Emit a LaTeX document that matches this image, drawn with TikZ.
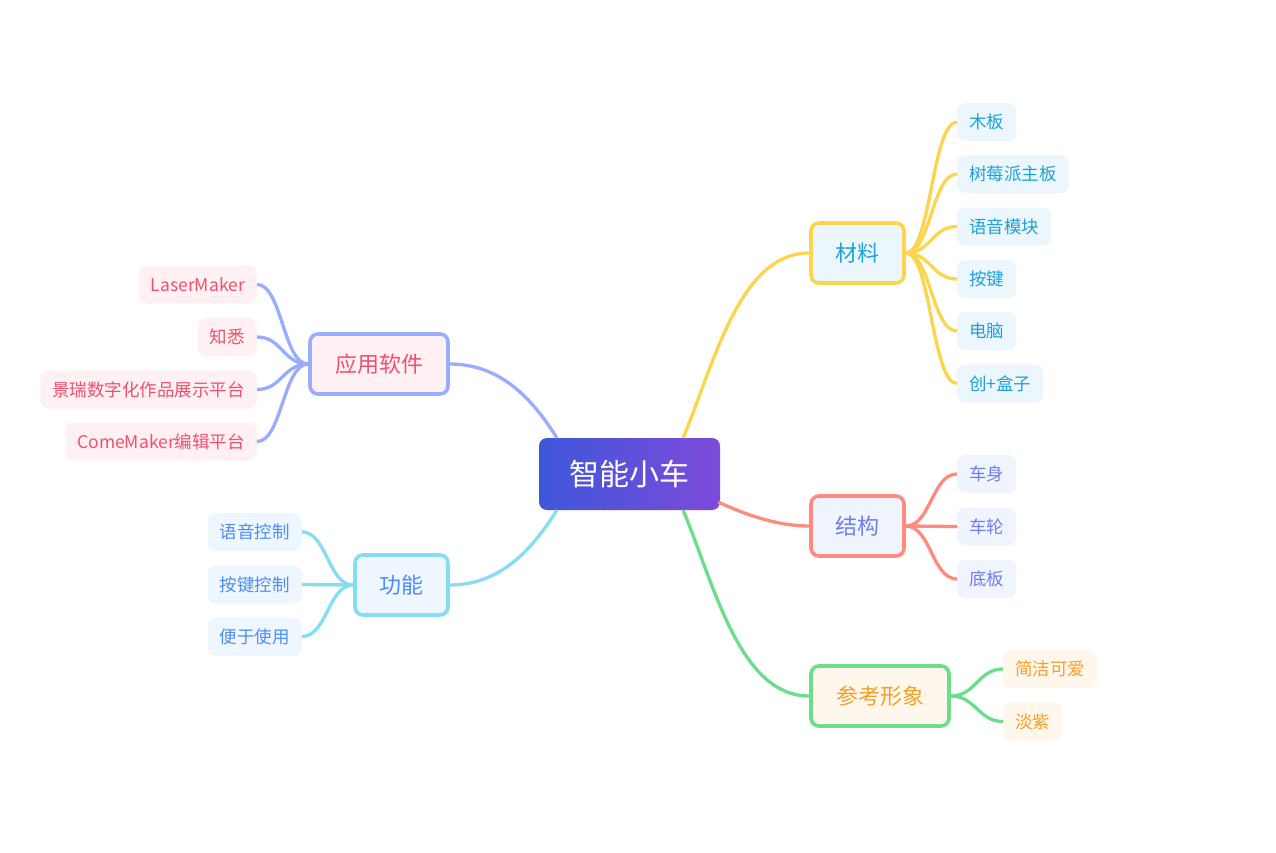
\documentclass[tikz,border=0pt]{standalone}
\usepackage{fontspec}
\setmainfont{Noto Sans CJK SC}
\usetikzlibrary{calc}
\definecolor{cA}{HTML}{3E57DA}
\definecolor{cB}{HTML}{7E4ADA}
\definecolor{yel}{HTML}{FDD54C}
\definecolor{sal}{HTML}{FF8A7E}
\definecolor{grn}{HTML}{6BDD8B}
\definecolor{peri}{HTML}{99ACFF}
\definecolor{cyn}{HTML}{86DCF2}
\definecolor{tY}{HTML}{1DA1D8}
\definecolor{tS}{HTML}{6E7FEA}
\definecolor{tG}{HTML}{F3A02C}
\definecolor{tP}{HTML}{F0506E}
\definecolor{tC}{HTML}{4D8DF5}
\definecolor{fY}{HTML}{EBF7FD}
\definecolor{fS}{HTML}{F0F4FF}
\definecolor{fG}{HTML}{FFF7EC}
\definecolor{fP}{HTML}{FFF1F3}
\definecolor{fC}{HTML}{EEF6FF}
\begin{document}
\begin{tikzpicture}[x=1pt,y=-1pt,
  rootbox/.style={rounded corners=8pt, minimum width=181pt, minimum height=72pt,
    left color=cA, right color=cB, text=white, font=\fontsize{30}{36}\selectfont},
  branchbox/.style={draw, line width=3.6pt, rounded corners=8pt, minimum height=60pt,
    inner xsep=10pt, font=\fontsize{22}{26}\selectfont},
  leafbox/.style={rounded corners=8pt, minimum height=38pt, inner xsep=12pt,
    font=\fontsize{17.5}{21}\selectfont},
  link/.style={line width=3.3pt}]
\useasboundingbox[fill=white] (0,0) rectangle (1276,852);

% root
\node[rootbox] (c) at (629.5,474) {智能小车};

% branches
\node[branchbox, draw=yel, fill=fY, text=tY, minimum width=93pt] (m) at (857.5,253) {材料};
\node[branchbox, draw=sal, fill=fS, text=tS, minimum width=93pt] (s) at (857.5,526) {结构};
\node[branchbox, draw=grn, fill=fG, text=tG, minimum width=138pt] (r) at (880,696) {参考形象};
\node[branchbox, draw=peri, fill=fP, text=tP, minimum width=138pt] (a) at (379,364) {应用软件};
\node[branchbox, draw=cyn, fill=fC, text=tC, minimum width=93pt] (f) at (401.5,585) {功能};

% root to branches
\draw[link, yel] ($(c.north east)+(-37,0)$) .. controls +(32,-78) and +(-69,0) .. (m.west);
\draw[link, grn] ($(c.south east)+(-37,0)$) .. controls +(32,78) and +(-69,0) .. (r.west);
\draw[link, sal] ($(c.east)+(-2,28)$) .. controls +(30,14) and +(-30,0) .. (s.west);
\draw[link, peri] ($(c.north west)+(18,0)$) .. controls +(-25,-40) and +(50,0) .. (a.east);
\draw[link, cyn] ($(c.south west)+(18,0)$) .. controls +(-25,40) and +(50,0) .. (f.east);

% leaves of 材料
\foreach \n/\t/\y in {m1/木板/122, m2/树莓派主板/174, m3/语音模块/226.5, m4/按键/279, m5/电脑/331, m6/创+盒子/383.5}{
  \node[leafbox, fill=fY, text=tY, anchor=west] (\n) at (957,\y) {\t};
  \draw[link, yel] (m.east) .. controls +(25,0) and +(-25,0) .. (\n.west);
}
% leaves of 结构
\foreach \n/\t/\y in {s1/车身/474, s2/车轮/526.5, s3/底板/579}{
  \node[leafbox, fill=fS, text=tS, anchor=west] (\n) at (957,\y) {\t};
  \draw[link, sal] (s.east) .. controls +(25,0) and +(-25,0) .. (\n.west);
}
% leaves of 参考形象
\foreach \n/\t/\y in {r1/简洁可爱/669, r2/淡紫/721.5}{
  \node[leafbox, fill=fG, text=tG, anchor=west] (\n) at (1003,\y) {\t};
  \draw[link, grn] (r.east) .. controls +(25,0) and +(-25,0) .. (\n.west);
}
% leaves of 应用软件
\foreach \n/\t/\y in {a1/LaserMaker/284.5, a2/知悉/337, a3/景瑞数字化作品展示平台/389.5, a4/ComeMaker编辑平台/441.5}{
  \node[leafbox, fill=fP, text=tP, anchor=east] (\n) at (257,\y) {\t};
  \draw[link, peri] (a.west) .. controls +(-25,0) and +(25,0) .. (\n.east);
}
% leaves of 功能
\foreach \n/\t/\y in {f1/语音控制/532, f2/按键控制/584.5, f3/便于使用/636.5}{
  \node[leafbox, fill=fC, text=tC, anchor=east] (\n) at (302,\y) {\t};
  \draw[link, cyn] (f.west) .. controls +(-25,0) and +(25,0) .. (\n.east);
}
\end{tikzpicture}
\end{document}
